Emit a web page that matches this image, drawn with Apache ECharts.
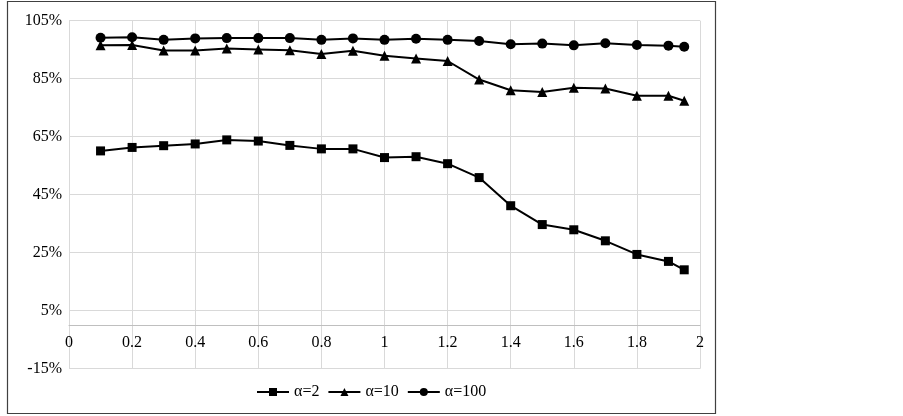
<!DOCTYPE html>
<html>
<head>
<meta charset="utf-8">
<script src="https://cdn.jsdelivr.net/npm/echarts@6/dist/echarts.min.js"></script>
<style>
html,body{margin:0;padding:0;background:#fff;}
#chart{width:903px;height:416px;}
</style>
</head>
<body>
<div id="chart"></div>
<script>
// x positions (ratio)
const xValues = [0.1,0.2,0.3,0.4,0.5,0.6,0.7,0.8,0.9,1.0,1.1,1.2,1.3,1.4,1.5,1.6,1.7,1.8,1.9,1.95];
// series values in percent
const alpha2   = [60.1,61.3,61.9,62.5,63.9,63.5,62.0,60.8,60.8,57.8,58.1,55.7,50.9,41.2,34.7,32.9,29.1,24.4,22.0,19.1];
const alpha10  = [96.5,96.6,94.7,94.7,95.4,95.1,94.8,93.5,94.6,92.9,92.0,91.1,84.7,81.0,80.4,81.9,81.6,79.1,79.1,77.4];
const alpha100 = [99.1,99.3,98.4,98.9,99.0,99.0,99.0,98.4,98.9,98.4,98.8,98.4,98.0,96.9,97.1,96.5,97.2,96.6,96.4,96.0];
const seriesNames = ['α=2','α=10','α=100'];
// y tick labels: -15% .. 105% step 20
const yMin = -15, yMax = 105, yStep = 20;
const xMin = 0, xMax = 2, xStep = 0.2;

const font = '"Liberation Serif", "Times New Roman", serif';
const pair = (vals) => xValues.map((x, i) => [x, vals[i]]);

const gridTop = 20.7, gridBottom = 47.3, plotH = 416 - gridTop - gridBottom;
// distance from bottom edge (yMin) up to the zero line
const zeroOffset = (0 - yMin) / (yMax - yMin) * plotH;

const chart = echarts.init(document.getElementById('chart'), null, {renderer: 'canvas'});
const mk = (name, vals, symbol, size) => ({
  name: name,
  type: 'line',
  yAxisIndex: 0,
  data: pair(vals),
  symbol: symbol,
  symbolSize: size,
  showSymbol: true,
  lineStyle: {color: '#000', width: 2},
  itemStyle: {color: '#000'},
  animation: false
});

chart.setOption({
  animation: false,
  backgroundColor: '#fff',
  graphic: [{
    type: 'rect',
    shape: {x: 7.5, y: 1.5, width: 708, height: 412},
    style: {fill: 'none', stroke: '#404040', lineWidth: 1.2},
    silent: true
  }],
  grid: {left: 69, right: 203, top: gridTop, bottom: gridBottom, containLabel: false},
  xAxis: {
    type: 'value',
    min: xMin, max: xMax, interval: xStep,
    offset: -zeroOffset,
    axisLine: {onZero: false, lineStyle: {color: '#bfbfbf', width: 1}},
    axisTick: {show: false},
    axisLabel: {color: '#000', fontFamily: font, fontSize: 16, margin: 10},
    splitLine: {show: true, lineStyle: {color: '#d9d9d9', width: 1}}
  },
  yAxis: [{
    type: 'value',
    position: 'left',
    min: yMin, max: yMax,
    axisLine: {show: false},
    axisTick: {show: false},
    axisLabel: {show: false},
    splitLine: {show: false}
  }, {
    type: 'value',
    position: 'left',
    min: 0, max: yMax - yMin, interval: yStep,
    axisLine: {show: false},
    axisTick: {show: false},
    axisLabel: {
      color: '#000', fontFamily: font, fontSize: 16, margin: 7,
      formatter: (v) => Math.round(v + yMin) + '%'
    },
    splitLine: {show: true, lineStyle: {color: '#d9d9d9', width: 1}}
  }],
  legend: {
    data: seriesNames,
    left: 256, top: 384, padding: 0,
    itemWidth: 32, itemHeight: 10, itemGap: 8,
    textStyle: {color: '#000', fontFamily: font, fontSize: 16}
  },
  series: [
    mk(seriesNames[0], alpha2, 'rect', 9),
    mk(seriesNames[1], alpha10, 'triangle', 10),
    mk(seriesNames[2], alpha100, 'circle', 10)
  ]
});
</script>
</body>
</html>
